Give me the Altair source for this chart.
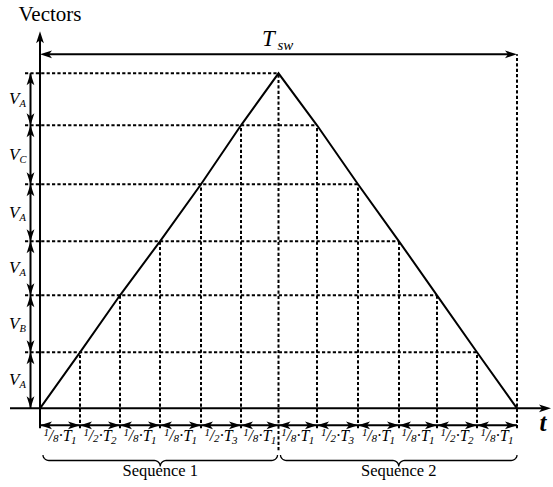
import altair as alt
import numpy as np
import pandas as pd

# Switching instants along the time axis (one unit = one pixel of drawing space)
times = [0, 40, 80, 120, 161, 201, 238.5, 277, 318, 359, 397, 437, 477]
# Cumulative vector levels reached at each instant on the rising edge
levels = [0, 56, 113, 167, 224, 283, 335]
# Vector applied between consecutive levels, bottom to top
vector_names = ["A", "B", "A", "A", "C", "A"]
# Duration of each interval: (1/den) * T_k
interval_den = [8, 2, 8, 8, 2, 8, 8, 2, 8, 8, 2, 8]
interval_T = [1, 2, 1, 1, 3, 1, 1, 3, 1, 1, 2, 1]
sequence_names = ["Sequence 1", "Sequence 2"]

SERIF = "Liberation Serif, DejaVu Serif, serif"
XS = alt.Scale(domain=[-40, 513], nice=False, zero=False)
YS = alt.Scale(domain=[-78.7, 408.3], nice=False, zero=False)

# stealth arrowhead with its tip at the symbol origin, pointing up
ARROW = "M0,0L0.65,2L0,1.5L-0.65,2Z"
DASH = [3.2, 2.2]

n = len(times) - 1
top_y = 377          # tip of the vertical axis arrow
tsw_y = 354          # height of the T_sw span arrow
row_y = -17          # height of the interval arrows under the axis
col_x = -9.5         # position of the level arrows left of the axis


def level_at(i):
    return levels[min(i, n - i)]


def X(f="x"):
    return alt.X(f"{f}:Q", scale=XS, axis=None)


def Y(f="y"):
    return alt.Y(f"{f}:Q", scale=YS, axis=None)


# triangular carrier through the grid points
tri = pd.DataFrame({"x": times, "y": [level_at(i) for i in range(n + 1)],
                    "o": range(n + 1)})
tri_layer = alt.Chart(tri).mark_line(color="black", strokeWidth=2).encode(
    x=X(), y=Y(), order="o:Q")

# horizontal dashed grid lines, from the level arrows to the falling edge
hgrid = pd.DataFrame({"x": [-15] * (len(levels) - 1),
                      "x2": [times[n - k] for k in range(1, len(levels))],
                      "y": levels[1:]})
h_layer = alt.Chart(hgrid).mark_rule(color="black", strokeWidth=2,
                                     strokeDash=DASH).encode(
    x=X(), x2=alt.X2("x2:Q"), y=Y())

# vertical dashed grid lines, from below the axis up to the carrier
vrows = []
for i in range(1, n + 1):
    if i == n:
        vrows.append({"x": times[i], "y": -20, "y2": tsw_y})
    elif i == n // 2:
        vrows.append({"x": times[i], "y": -42, "y2": level_at(i)})
    else:
        vrows.append({"x": times[i], "y": -20, "y2": level_at(i)})
v_layer = alt.Chart(pd.DataFrame(vrows)).mark_rule(
    color="black", strokeWidth=2, strokeDash=DASH).encode(
    x=X(), y=Y(), y2=alt.Y2("y2:Q"))

# solid lines: axes, T_sw span, level arrows, interval arrows
solid = [
    {"x": 0, "x2": 0, "y": -20, "y2": top_y - 8},
    {"x": -30, "x2": 503, "y": 0, "y2": 0},
    {"x": 6, "x2": times[-1] - 6, "y": tsw_y, "y2": tsw_y},
    {"x": col_x, "x2": col_x, "y": 0, "y2": levels[-1]},
    {"x": times[0], "x2": times[-1], "y": row_y, "y2": row_y},
]
solid_layer = alt.Chart(pd.DataFrame(solid)).mark_rule(
    color="black", strokeWidth=2).encode(
    x=X(), x2=alt.X2("x2:Q"), y=Y(), y2=alt.Y2("y2:Q"))

# arrowheads
heads = [
    {"x": 0, "y": top_y, "a": 0},
    {"x": 511, "y": 0, "a": 90},
    {"x": 0, "y": tsw_y, "a": 270},
    {"x": times[-1], "y": tsw_y, "a": 90},
]
for k in range(len(levels) - 1):
    heads.append({"x": col_x, "y": levels[k + 1], "a": 0})
    heads.append({"x": col_x, "y": levels[k], "a": 180})
for i in range(n):
    heads.append({"x": times[i], "y": row_y, "a": 270})
    heads.append({"x": times[i + 1], "y": row_y, "a": 90})
head_layer = alt.Chart(pd.DataFrame(heads)).mark_point(
    shape=ARROW, filled=True, size=144, color="black", opacity=1,
    strokeWidth=0).encode(x=X(), y=Y(), angle=alt.Angle("a:Q", scale=None))


# curly braces under each sequence
def brace(x0, x1, top, mid, tip, r=6, seg=8):
    pts = []
    xm = (x0 + x1) / 2
    th = np.linspace(0, np.pi / 2, seg)
    for t in th:
        pts.append((x0 + r * (1 - np.cos(t)), top - (top - mid) * np.sin(t)))
    for t in th:
        pts.append((xm - r + r * np.sin(t), mid - (mid - tip) * (1 - np.cos(t))))
    for t in th[::-1]:
        pts.append((xm + r - r * np.sin(t), mid - (mid - tip) * (1 - np.cos(t))))
    for t in th[::-1]:
        pts.append((x1 - r * (1 - np.cos(t)), top - (top - mid) * np.sin(t)))
    return pts


brows = []
half = n // 2
spans = [(times[0] + 3, times[half] - 1), (times[half] + 2, times[-1])]
for s, (a, b) in enumerate(spans):
    for j, (px, py) in enumerate(brace(a, b, -46.7, -52.2, -58.2)):
        brows.append({"x": px, "y": py, "s": sequence_names[s], "o": j})
brace_layer = alt.Chart(pd.DataFrame(brows)).mark_line(
    color="black", strokeWidth=1.3).encode(
    x=X(), y=Y(), detail="s:N", order="o:Q")

# texts
seq_df = pd.DataFrame({"x": [(a + b) / 2 for a, b in spans], "y": -67.7,
                       "t": sequence_names})
seq_layer = alt.Chart(seq_df).mark_text(
    font=SERIF, fontSize=16.5, baseline="alphabetic", align="center",
    color="black").encode(x=X(), y=Y(), text="t:N")

# interval labels built from pieces: raised numerator, slash, lowered
# denominator, "·T" and the subscript index
base_y = -32.5
pieces = []
for i in range(n):
    left = (times[i] + times[i + 1]) / 2 - 16.5
    pieces += [
        {"x": left, "y": base_y + 4.5, "t": "1", "fs": 11},
        {"x": left + 5.2, "y": base_y, "t": "/", "fs": 16},
        {"x": left + 9.6, "y": base_y - 1.5, "t": str(interval_den[i]), "fs": 11},
        {"x": left + 15.2, "y": base_y, "t": "·T", "fs": 16},
        {"x": left + 27.6, "y": base_y - 3, "t": str(interval_T[i]), "fs": 11},
    ]
int_layer = alt.Chart(pd.DataFrame(pieces)).mark_text(
    font=SERIF, fontStyle="italic", baseline="alphabetic",
    align="left", color="black").encode(
    x=X(), y=Y(), text="t:N", size=alt.Size("fs:Q", scale=None, legend=None))

mids = [(levels[k] + levels[k + 1]) / 2 for k in range(len(levels) - 1)]
vparts = []
for k, m in enumerate(mids):
    vparts.append({"x": -31, "y": m - 5, "t": "V", "fs": 17})
    vparts.append({"x": -20.5, "y": m - 8, "t": vector_names[k], "fs": 10.5})
v_text = alt.Chart(pd.DataFrame(vparts)).mark_text(
    font=SERIF, fontStyle="italic", baseline="alphabetic", align="left",
    color="black").encode(
    x=X(), y=Y(), text="t:N", size=alt.Size("fs:Q", scale=None, legend=None))

tsw_parts = pd.DataFrame({"x": [222, 237.5], "y": [362, 358],
                          "t": ["T", "sw"], "fs": [23, 15]})
tsw_text = alt.Chart(tsw_parts).mark_text(
    font=SERIF, fontStyle="italic", baseline="alphabetic", align="left",
    color="black").encode(
    x=X(), y=Y(), text="t:N", size=alt.Size("fs:Q", scale=None, legend=None))

vec_title = alt.Chart(pd.DataFrame({"x": [10], "y": [387.3], "t": ["Vectors"]})).mark_text(
    font=SERIF, fontSize=21, baseline="alphabetic", align="center",
    color="black").encode(x=X(), y=Y(), text="t:N")
t_axis = alt.Chart(pd.DataFrame({"x": [503], "y": [-22.7], "t": ["t"]})).mark_text(
    font=SERIF, fontSize=25, fontStyle="italic", fontWeight="bold",
    baseline="alphabetic", align="center", color="black").encode(
    x=X(), y=Y(), text="t:N")

chart = alt.layer(
    h_layer, v_layer, tri_layer, solid_layer, head_layer, brace_layer,
    seq_layer, int_layer, v_text, tsw_text, vec_title, t_axis,
).properties(
    width=553, height=487, padding=0,
    autosize=alt.AutoSizeParams(type="none"),
    background="white",
).configure_view(stroke=None)

chart.save("out.html", embed_options={"renderer": "svg", "actions": False})
